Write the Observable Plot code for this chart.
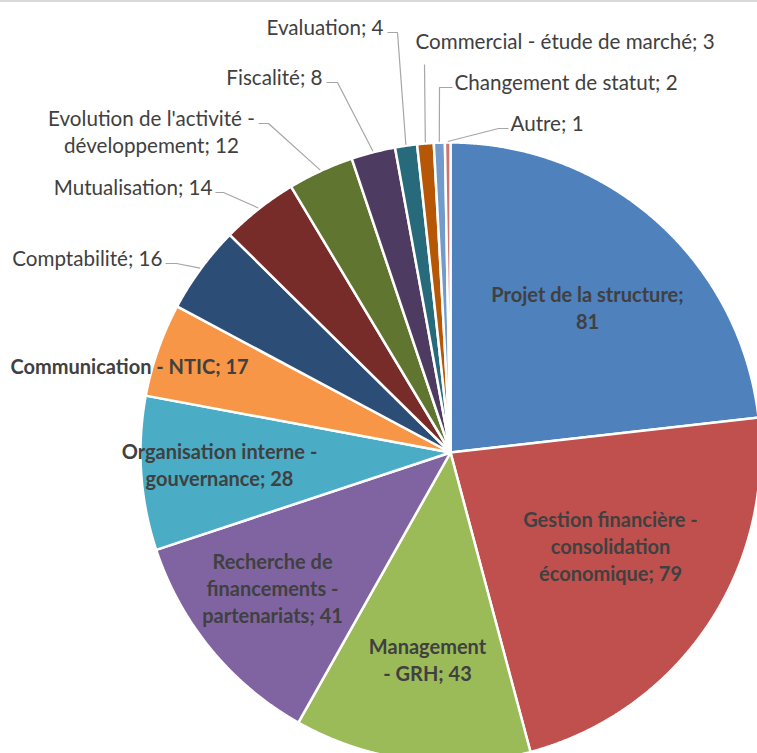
<!DOCTYPE html>
<html>
<head>
<meta charset="utf-8">
<script src="https://cdn.jsdelivr.net/npm/d3@7"></script>
<script src="https://cdn.jsdelivr.net/npm/@observablehq/plot@0.6"></script>
<style>
  html, body { margin: 0; padding: 0; background: #fff; overflow: hidden; }
  #wrap { position: relative; width: 757px; height: 753px; overflow: hidden; }
  #topline { position: absolute; left: 0; top: 0; width: 757px; height: 2px; background: #d9d9d9; }
  svg { overflow: hidden; }
</style>
</head>
<body>
<div id="wrap"><div id="chart"></div><div id="topline"></div></div>
<script>
// ---- data ----
const categories = [
  "Projet de la structure",
  "Gestion financière - consolidation économique",
  "Management - GRH",
  "Recherche de financements - partenariats",
  "Organisation interne - gouvernance",
  "Communication - NTIC",
  "Comptabilité",
  "Mutualisation",
  "Evolution de l'activité - développement",
  "Fiscalité",
  "Evaluation",
  "Commercial - étude de marché",
  "Changement de statut",
  "Autre"
];
const values = [81, 79, 43, 41, 28, 17, 16, 14, 12, 8, 4, 3, 2, 1];
const labelTexts = [
  "Projet de la structure;\n81",
  "Gestion financière -\nconsolidation\néconomique; 79",
  "Management\n- GRH; 43",
  "Recherche de\nfinancements -\npartenariats; 41",
  "Organisation interne -\ngouvernance; 28",
  "Communication - NTIC; 17",
  "Comptabilité; 16",
  "Mutualisation; 14",
  "Evolution de l'activité -\ndéveloppement; 12",
  "Fiscalité; 8",
  "Evaluation; 4",
  "Commercial - étude de marché; 3",
  "Changement de statut; 2",
  "Autre; 1"
];
const colors = [
  "#4F81BD", "#C0504D", "#9BBB59", "#8064A2", "#4BACC6", "#F79646",
  "#2C4D75", "#772C2A", "#5F7530", "#4D3B62", "#276A7C", "#B65708",
  "#729ACA", "#CD7371"
];

// ---- layout (pixels) ----
const W = 757, H = 753;
const CX = 450, CY = 452, R = 310;
// label placement: inside (bold) or outside with leader
const labelLayout = [
  {inside: true, x: 587, y: 328, anchor: "middle"},
  {inside: true, x: 610, y: 580, anchor: "middle"},
  {inside: true, x: 427, y: 680, anchor: "middle"},
  {inside: true, x: 272, y: 622, anchor: "middle"},
  {inside: true, x: 219, y: 485, anchor: "middle"},
  {inside: true, x: 10,  y: 373, anchor: "start"},
  {inside: false, x: 162, y: 265, anchor: "end",   lead: [[165, 263], [176, 263]]},
  {inside: false, x: 212, y: 194, anchor: "end",   lead: [[215, 192], [223, 192]]},
  {inside: false, x: 151, y: 152, anchor: "middle",lead: [[258, 123], [268, 123]]},
  {inside: false, x: 322, y: 84,  anchor: "end",   lead: [[326, 82], [337, 82]]},
  {inside: false, x: 383, y: 34,  anchor: "end",   lead: [[387, 32], [397, 32]]},
  {inside: false, x: 415, y: 48,  anchor: "start", lead: [[424, 64]]},
  {inside: false, x: 454, y: 89,  anchor: "start", lead: [[452, 87], [439, 87]]},
  {inside: false, x: 510, y: 130, anchor: "start", lead: [[508, 128], [498, 128]]}
];

const rows = categories.map((c, i) => ({name: c, value: values[i], label: labelTexts[i], ...labelLayout[i]}));
const arcs = d3.pie().sort(null).value(d => d.value)(rows);

const px = a => CX + R * Math.sin(a);
const py = a => CY - R * Math.cos(a);

// slice polygons
const slicePts = [];
arcs.forEach(a => {
  const n = Math.max(2, Math.ceil((a.endAngle - a.startAngle) / 0.004));
  slicePts.push({name: a.data.name, x: CX, y: CY});
  for (let k = 0; k <= n; k++) {
    const t = a.startAngle + (a.endAngle - a.startAngle) * k / n;
    slicePts.push({name: a.data.name, x: px(t), y: py(t)});
  }
  slicePts.push({name: a.data.name, x: CX, y: CY});
});

// leader lines
const leaderPts = [];
arcs.forEach(a => {
  const d = a.data;
  if (d.inside) return;
  const mid = (a.startAngle + a.endAngle) / 2;
  d.lead.forEach(p => leaderPts.push({name: d.name, x: p[0], y: p[1]}));
  leaderPts.push({name: d.name, x: CX + (R + 1) * Math.sin(mid), y: CY - (R + 1) * Math.cos(mid)});
});

const inside = rows.filter(d => d.inside);
const outside = rows.filter(d => !d.inside);

const textOpts = {
  x: "x", y: "y", text: "label",
  lineAnchor: "bottom",
  lineHeight: 1.31,
  fontSize: 20.6,
  fill: "#404040"
};
const boldOpts = {...textOpts, fontSize: 20, lineHeight: 1.33, fontWeight: "bold"};

const chart = Plot.plot({
  width: W, height: H,
  margin: 0,
  x: {domain: [0, W], range: [0, W], axis: null},
  y: {domain: [0, H], range: [0, H], axis: null},
  color: {type: "ordinal", domain: categories, range: colors},
  style: {fontFamily: "Lato, 'Open Sans', sans-serif", background: "white"},
  marks: [
    Plot.line(slicePts, {x: "x", y: "y", z: "name", fill: "name", stroke: "white", strokeWidth: 2.5, strokeLinejoin: "round", curve: "linear"}),
    Plot.line(leaderPts, {x: "x", y: "y", z: "name", stroke: "#A6A6A6", strokeWidth: 1.2, strokeLinejoin: "miter", strokeLinecap: "butt"}),
    Plot.text(inside, {...boldOpts, textAnchor: "middle", filter: d => d.anchor === "middle"}),
    Plot.text(inside, {...boldOpts, textAnchor: "start", filter: d => d.anchor === "start"}),
    Plot.text(outside, {...textOpts, textAnchor: "end", filter: d => d.anchor === "end"}),
    Plot.text(outside, {...textOpts, textAnchor: "middle", filter: d => d.anchor === "middle"}),
    Plot.text(outside, {...textOpts, textAnchor: "start", filter: d => d.anchor === "start"})
  ]
});
document.getElementById("chart").appendChild(chart);
</script>
</body>
</html>
